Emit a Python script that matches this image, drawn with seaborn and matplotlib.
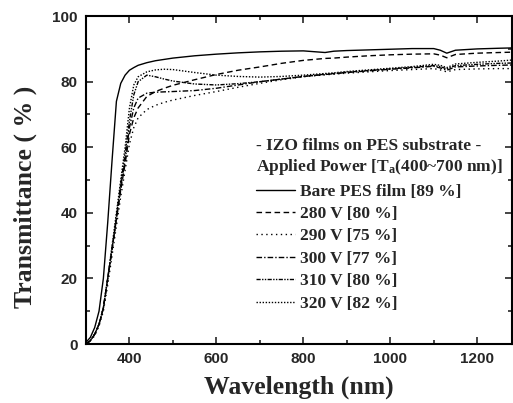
import pandas as pd
import matplotlib
matplotlib.use("Agg")
import matplotlib.pyplot as plt
import seaborn as sns
from matplotlib.ticker import MultipleLocator

# wavelength grid (nm)
wavelength = [300, 310, 320, 330, 340, 350, 360, 370, 380, 390, 400, 410, 420, 440,
              460, 480, 500, 550, 600, 650, 700, 750, 800, 850, 870, 900, 950,
              1000, 1050, 1100, 1115, 1130, 1150, 1200, 1250, 1280]

bare_pes = [0.5, 2, 5, 10, 20, 37, 56, 74, 79.5, 82, 83.5, 84.3, 85, 85.8,
            86.4, 86.8, 87.2, 87.9, 88.4, 88.8, 89.1, 89.3, 89.4, 88.9, 89.3, 89.5, 89.7,
            89.9, 90.1, 90.1, 89.6, 88.7, 89.6, 90.0, 90.2, 90.3]
v280 = [0, 1, 3, 6, 11, 20, 29, 38, 47, 55, 64, 69, 72, 75.5,
        77, 78, 78.9, 80.6, 82.2, 83.5, 84.5, 85.6, 86.5, 87.1, 87.2, 87.5, 87.9,
        88.2, 88.4, 88.5, 88.1, 87.3, 88.3, 88.7, 88.9, 89.0]
v290 = [0, 1, 2.5, 5.5, 10, 18, 27, 36, 45, 53, 61, 66, 69, 71.5,
        72.8, 73.7, 74.4, 75.8, 77.0, 78.3, 79.5, 80.6, 81.5, 82.1, 82.3, 82.6, 83.0,
        83.4, 83.7, 84.0, 83.6, 83.0, 83.7, 83.9, 84.0, 84.0]
v300 = [0, 1, 3, 6, 11, 20, 29, 38, 48, 56, 66, 72, 75, 76.5,
        76.8, 76.9, 77.0, 77.3, 78.0, 79.0, 80.0, 80.8, 81.6, 82.2, 82.4, 82.8, 83.3,
        83.8, 84.2, 84.7, 84.2, 83.5, 84.5, 84.8, 85.0, 85.1]
v310 = [0, 1, 3, 6, 11, 20, 29, 39, 49, 58, 68, 76, 80, 82.0,
        81.5, 80.8, 80.2, 79.3, 79.0, 79.4, 80.0, 80.8, 81.6, 82.3, 82.5, 82.9, 83.4,
        83.9, 84.4, 84.9, 84.6, 83.9, 84.9, 85.3, 85.6, 85.7]
v320 = [0, 1, 3, 6, 11, 20, 30, 40, 50, 60, 72, 79, 81.5, 83,
        83.6, 83.8, 83.7, 82.8, 82.0, 81.6, 81.4, 81.6, 82.0, 82.5, 82.7, 83.1, 83.6,
        84.1, 84.6, 85.3, 85.0, 84.3, 85.4, 85.9, 86.3, 86.6]

labels = ["Bare PES film [89 %]", "280 V [80 %]", "290 V [75 %]",
          "300 V [77 %]", "310 V [80 %]", "320 V [82 %]"]
series = [bare_pes, v280, v290, v300, v310, v320]

frames = []
for lab, vals in zip(labels, series):
    frames.append(pd.DataFrame({"wl": wavelength, "T": vals, "sample": lab}))
df = pd.concat(frames, ignore_index=True)

dash_styles = {
    labels[0]: "",
    labels[1]: (4, 2.5),
    labels[2]: (1, 2.5),
    labels[3]: (4, 1.5, 1, 1.5),
    labels[4]: (3, 1, 1, 1, 1, 1),
    labels[5]: (1, 1.2),
}

sns.set_style("ticks")
plt.rcParams["mathtext.fontset"] = "custom"
plt.rcParams["mathtext.rm"] = "Liberation Serif:bold"
plt.rcParams["mathtext.bf"] = "Liberation Serif:bold"
plt.rcParams["mathtext.it"] = "Liberation Serif:bold"

fig = plt.figure(figsize=(5.13, 4.03), dpi=100)
ax = fig.add_axes([0.1676, 0.1464, 0.8304, 0.8136])

sns.lineplot(data=df, x="wl", y="T", hue="sample", style="sample",
             palette={lab: "black" for lab in labels}, dashes=dash_styles,
             linewidth=1.0, ax=ax, sort=False)

ax.set_xlim(300, 1280)
ax.set_ylim(0, 100)
ax.xaxis.set_major_locator(MultipleLocator(200))
ax.xaxis.set_minor_locator(MultipleLocator(100))
ax.yaxis.set_major_locator(MultipleLocator(20))
ax.yaxis.set_minor_locator(MultipleLocator(10))
ax.tick_params(which="both", direction="in", top=True, right=True, width=1.2)
ax.tick_params(which="major", length=5)
ax.tick_params(which="minor", length=3)
for s in ax.spines.values():
    s.set_linewidth(1.5)
    s.set_color("black")
for t in ax.get_xticklabels() + ax.get_yticklabels():
    t.set_fontfamily("Liberation Sans")
    t.set_fontweight("bold")
    t.set_fontsize(11)
ax.xaxis.set_tick_params(pad=6)
ax.yaxis.set_tick_params(pad=6)

serif = {"family": "Liberation Serif", "weight": "bold"}
ax.set_xlabel("Wavelength (nm)", fontdict=serif, fontsize=18.5, labelpad=7)
ax.set_ylabel("Transmittance ( % )", fontdict=serif, fontsize=18.5, labelpad=10)
ax.yaxis.set_label_coords(-0.115, 0.45)

handles, labs = ax.get_legend_handles_labels()
leg = ax.legend(handles, labs, loc="upper left", bbox_to_anchor=(0.399, 0.627),
                frameon=False, borderpad=0, borderaxespad=0,
                handlelength=2.25, handletextpad=0.29, labelspacing=0.36,
                prop={"family": "Liberation Serif", "weight": "bold", "size": 12.5},
                title="- IZO films on PES substrate -\nApplied Power [T$_{a}$(400~700 nm)]",
                title_fontproperties={"family": "Liberation Serif", "weight": "bold", "size": 12.5})
leg._legend_box.align = "left"

fig.savefig("out.png", dpi=100)
plt.close(fig)
